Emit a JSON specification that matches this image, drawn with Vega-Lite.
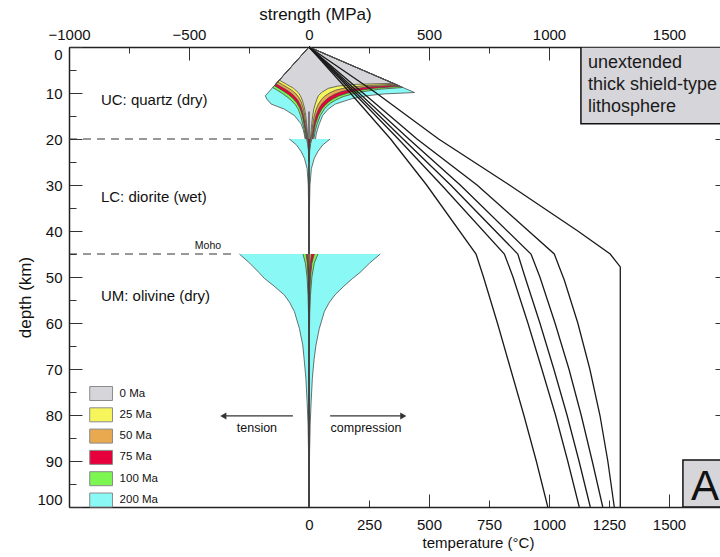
{
  "$schema": "https://vega.github.io/schema/vega-lite/v6.json",
  "width": 651,
  "height": 460,
  "autosize": {"type": "none"},
  "padding": {"left": 69, "top": 47, "right": 0, "bottom": 50},
  "config": {
    "font": "Liberation Sans",
    "view": {"stroke": null},
    "axis": {"grid": false, "format": "d", "domainColor": "#222", "domainWidth": 1.5, "tickColor": "#333", "tickWidth": 1, "labelColor": "#111", "titleColor": "#111", "labelFontSize": 15, "titleFontSize": 15, "titleFontWeight": "normal", "labelFont": "Liberation Sans", "titleFont": "Liberation Sans"}
  },
  "datasets": {
    "env": [
      {"age":"200 Ma","part":"UC-c","depth":0,"mpa":0},{"age":"200 Ma","part":"UC-c","depth":9.9,"mpa":440},{"age":"200 Ma","part":"UC-c","depth":10.2,"mpa":314},{"age":"200 Ma","part":"UC-c","depth":10.6,"mpa":240},{"age":"200 Ma","part":"UC-c","depth":11.3,"mpa":175},{"age":"200 Ma","part":"UC-c","depth":12.4,"mpa":110},{"age":"200 Ma","part":"UC-c","depth":13.5,"mpa":80},{"age":"200 Ma","part":"UC-c","depth":14.9,"mpa":57},{"age":"200 Ma","part":"UC-c","depth":16.7,"mpa":43},{"age":"200 Ma","part":"UC-c","depth":18,"mpa":35},{"age":"200 Ma","part":"UC-c","depth":19,"mpa":30},{"age":"200 Ma","part":"UC-c","depth":20,"mpa":27},
      {"age":"200 Ma","part":"UC-t","depth":0,"mpa":0},{"age":"200 Ma","part":"UC-t","depth":10.6,"mpa":-182},{"age":"200 Ma","part":"UC-t","depth":11.3,"mpa":-176},{"age":"200 Ma","part":"UC-t","depth":12.4,"mpa":-158},{"age":"200 Ma","part":"UC-t","depth":13.5,"mpa":-103},{"age":"200 Ma","part":"UC-t","depth":14.9,"mpa":-61},{"age":"200 Ma","part":"UC-t","depth":16.7,"mpa":-33},{"age":"200 Ma","part":"UC-t","depth":18,"mpa":-24},{"age":"200 Ma","part":"UC-t","depth":19,"mpa":-19.5},{"age":"200 Ma","part":"UC-t","depth":20,"mpa":-16},
      {"age":"200 Ma","part":"LC-c","depth":20,"mpa":88},{"age":"200 Ma","part":"LC-c","depth":21.3,"mpa":57},{"age":"200 Ma","part":"LC-c","depth":22.8,"mpa":36},{"age":"200 Ma","part":"LC-c","depth":24.2,"mpa":22},{"age":"200 Ma","part":"LC-c","depth":26.4,"mpa":10},{"age":"200 Ma","part":"LC-c","depth":30,"mpa":4},{"age":"200 Ma","part":"LC-c","depth":35,"mpa":2},{"age":"200 Ma","part":"LC-c","depth":45,"mpa":1},
      {"age":"200 Ma","part":"LC-t","depth":20,"mpa":-82},{"age":"200 Ma","part":"LC-t","depth":21.3,"mpa":-52},{"age":"200 Ma","part":"LC-t","depth":22.8,"mpa":-32},{"age":"200 Ma","part":"LC-t","depth":24.2,"mpa":-19},{"age":"200 Ma","part":"LC-t","depth":26.4,"mpa":-8},{"age":"200 Ma","part":"LC-t","depth":30,"mpa":-3},{"age":"200 Ma","part":"LC-t","depth":35,"mpa":-1.5},{"age":"200 Ma","part":"LC-t","depth":45,"mpa":-1},
      {"age":"200 Ma","part":"M-c","depth":45,"mpa":297},{"age":"200 Ma","part":"M-c","depth":47,"mpa":252},{"age":"200 Ma","part":"M-c","depth":49,"mpa":213},{"age":"200 Ma","part":"M-c","depth":50.3,"mpa":182},{"age":"200 Ma","part":"M-c","depth":52,"mpa":145},{"age":"200 Ma","part":"M-c","depth":53.9,"mpa":108},{"age":"200 Ma","part":"M-c","depth":55.5,"mpa":85},{"age":"200 Ma","part":"M-c","depth":57.5,"mpa":64},{"age":"200 Ma","part":"M-c","depth":61.2,"mpa":43},{"age":"200 Ma","part":"M-c","depth":64.8,"mpa":29},{"age":"200 Ma","part":"M-c","depth":68,"mpa":21},{"age":"200 Ma","part":"M-c","depth":72,"mpa":14},{"age":"200 Ma","part":"M-c","depth":77,"mpa":9},{"age":"200 Ma","part":"M-c","depth":82,"mpa":5},{"age":"200 Ma","part":"M-c","depth":88,"mpa":2.5},{"age":"200 Ma","part":"M-c","depth":95,"mpa":1},{"age":"200 Ma","part":"M-c","depth":100,"mpa":0.5},
      {"age":"200 Ma","part":"M-t","depth":45,"mpa":-290},{"age":"200 Ma","part":"M-t","depth":47,"mpa":-247},{"age":"200 Ma","part":"M-t","depth":49,"mpa":-209},{"age":"200 Ma","part":"M-t","depth":50.3,"mpa":-186},{"age":"200 Ma","part":"M-t","depth":52,"mpa":-145},{"age":"200 Ma","part":"M-t","depth":53.9,"mpa":-103},{"age":"200 Ma","part":"M-t","depth":55.5,"mpa":-81},{"age":"200 Ma","part":"M-t","depth":57.5,"mpa":-61},{"age":"200 Ma","part":"M-t","depth":61.2,"mpa":-40},{"age":"200 Ma","part":"M-t","depth":64.8,"mpa":-26},{"age":"200 Ma","part":"M-t","depth":68,"mpa":-20},{"age":"200 Ma","part":"M-t","depth":72,"mpa":-13},{"age":"200 Ma","part":"M-t","depth":77,"mpa":-8},{"age":"200 Ma","part":"M-t","depth":82,"mpa":-4},{"age":"200 Ma","part":"M-t","depth":88,"mpa":-2},{"age":"200 Ma","part":"M-t","depth":95,"mpa":-1},{"age":"200 Ma","part":"M-t","depth":100,"mpa":-0.5},

      {"age":"100 Ma","part":"UC-c","depth":0,"mpa":0},{"age":"100 Ma","part":"UC-c","depth":8.8,"mpa":391},{"age":"100 Ma","part":"UC-c","depth":9.2,"mpa":290},{"age":"100 Ma","part":"UC-c","depth":9.75,"mpa":220},{"age":"100 Ma","part":"UC-c","depth":10.25,"mpa":178},{"age":"100 Ma","part":"UC-c","depth":10.8,"mpa":142},{"age":"100 Ma","part":"UC-c","depth":11.5,"mpa":112},{"age":"100 Ma","part":"UC-c","depth":12.2,"mpa":90},{"age":"100 Ma","part":"UC-c","depth":13,"mpa":72},{"age":"100 Ma","part":"UC-c","depth":13.5,"mpa":64},{"age":"100 Ma","part":"UC-c","depth":14.9,"mpa":47},{"age":"100 Ma","part":"UC-c","depth":16.7,"mpa":34},{"age":"100 Ma","part":"UC-c","depth":18,"mpa":27},{"age":"100 Ma","part":"UC-c","depth":20,"mpa":20},
      {"age":"100 Ma","part":"UC-t","depth":0,"mpa":0},{"age":"100 Ma","part":"UC-t","depth":8.8,"mpa":-151},{"age":"100 Ma","part":"UC-t","depth":9.4,"mpa":-132},{"age":"100 Ma","part":"UC-t","depth":10.1,"mpa":-111},{"age":"100 Ma","part":"UC-t","depth":10.9,"mpa":-90},{"age":"100 Ma","part":"UC-t","depth":11.7,"mpa":-72},{"age":"100 Ma","part":"UC-t","depth":12.6,"mpa":-56},{"age":"100 Ma","part":"UC-t","depth":13.5,"mpa":-45},{"age":"100 Ma","part":"UC-t","depth":14.9,"mpa":-35},{"age":"100 Ma","part":"UC-t","depth":16.7,"mpa":-26},{"age":"100 Ma","part":"UC-t","depth":18,"mpa":-20},{"age":"100 Ma","part":"UC-t","depth":20,"mpa":-14},
      {"age":"100 Ma","part":"LC-c","depth":20,"mpa":12},{"age":"100 Ma","part":"LC-c","depth":21,"mpa":7},{"age":"100 Ma","part":"LC-c","depth":22.5,"mpa":3},{"age":"100 Ma","part":"LC-c","depth":25,"mpa":1},{"age":"100 Ma","part":"LC-c","depth":45,"mpa":0.5},
      {"age":"100 Ma","part":"LC-t","depth":20,"mpa":-10},{"age":"100 Ma","part":"LC-t","depth":21,"mpa":-6},{"age":"100 Ma","part":"LC-t","depth":22.5,"mpa":-2.5},{"age":"100 Ma","part":"LC-t","depth":25,"mpa":-1},{"age":"100 Ma","part":"LC-t","depth":45,"mpa":-0.5},
      {"age":"100 Ma","part":"M-c","depth":45,"mpa":37},{"age":"100 Ma","part":"M-c","depth":47,"mpa":22},{"age":"100 Ma","part":"M-c","depth":50,"mpa":12},{"age":"100 Ma","part":"M-c","depth":54,"mpa":6},{"age":"100 Ma","part":"M-c","depth":58,"mpa":3},{"age":"100 Ma","part":"M-c","depth":65,"mpa":1},{"age":"100 Ma","part":"M-c","depth":100,"mpa":0.3},
      {"age":"100 Ma","part":"M-t","depth":45,"mpa":-25},{"age":"100 Ma","part":"M-t","depth":47,"mpa":-15},{"age":"100 Ma","part":"M-t","depth":50,"mpa":-8},{"age":"100 Ma","part":"M-t","depth":54,"mpa":-4},{"age":"100 Ma","part":"M-t","depth":58,"mpa":-2},{"age":"100 Ma","part":"M-t","depth":65,"mpa":-1},{"age":"100 Ma","part":"M-t","depth":100,"mpa":-0.3},

      {"age":"75 Ma","part":"UC-c","depth":0,"mpa":0},{"age":"75 Ma","part":"UC-c","depth":8.55,"mpa":380},{"age":"75 Ma","part":"UC-c","depth":8.95,"mpa":272},{"age":"75 Ma","part":"UC-c","depth":9.5,"mpa":202},{"age":"75 Ma","part":"UC-c","depth":10,"mpa":162},{"age":"75 Ma","part":"UC-c","depth":10.6,"mpa":126},{"age":"75 Ma","part":"UC-c","depth":11.3,"mpa":99},{"age":"75 Ma","part":"UC-c","depth":12,"mpa":80},{"age":"75 Ma","part":"UC-c","depth":12.8,"mpa":64},{"age":"75 Ma","part":"UC-c","depth":13.5,"mpa":53},{"age":"75 Ma","part":"UC-c","depth":14.9,"mpa":39},{"age":"75 Ma","part":"UC-c","depth":16.7,"mpa":27},{"age":"75 Ma","part":"UC-c","depth":18,"mpa":22},{"age":"75 Ma","part":"UC-c","depth":20,"mpa":16},
      {"age":"75 Ma","part":"UC-t","depth":0,"mpa":0},{"age":"75 Ma","part":"UC-t","depth":8.4,"mpa":-144},{"age":"75 Ma","part":"UC-t","depth":9,"mpa":-125},{"age":"75 Ma","part":"UC-t","depth":9.7,"mpa":-104},{"age":"75 Ma","part":"UC-t","depth":10.4,"mpa":-84},{"age":"75 Ma","part":"UC-t","depth":11.2,"mpa":-66},{"age":"75 Ma","part":"UC-t","depth":12.1,"mpa":-51},{"age":"75 Ma","part":"UC-t","depth":13.1,"mpa":-40},{"age":"75 Ma","part":"UC-t","depth":14,"mpa":-33},{"age":"75 Ma","part":"UC-t","depth":14.9,"mpa":-28},{"age":"75 Ma","part":"UC-t","depth":16.7,"mpa":-21},{"age":"75 Ma","part":"UC-t","depth":18,"mpa":-16},{"age":"75 Ma","part":"UC-t","depth":20,"mpa":-11},
      {"age":"75 Ma","part":"LC-c","depth":20,"mpa":8},{"age":"75 Ma","part":"LC-c","depth":21,"mpa":4},{"age":"75 Ma","part":"LC-c","depth":22.5,"mpa":2},{"age":"75 Ma","part":"LC-c","depth":25,"mpa":0.5},
      {"age":"75 Ma","part":"LC-t","depth":20,"mpa":-6},{"age":"75 Ma","part":"LC-t","depth":21,"mpa":-3.5},{"age":"75 Ma","part":"LC-t","depth":22.5,"mpa":-1.5},{"age":"75 Ma","part":"LC-t","depth":25,"mpa":-0.5},
      {"age":"75 Ma","part":"M-c","depth":45,"mpa":22},{"age":"75 Ma","part":"M-c","depth":47,"mpa":12},{"age":"75 Ma","part":"M-c","depth":50,"mpa":6},{"age":"75 Ma","part":"M-c","depth":54,"mpa":3},{"age":"75 Ma","part":"M-c","depth":60,"mpa":1},{"age":"75 Ma","part":"M-c","depth":100,"mpa":0.2},
      {"age":"75 Ma","part":"M-t","depth":45,"mpa":-12},{"age":"75 Ma","part":"M-t","depth":47,"mpa":-7},{"age":"75 Ma","part":"M-t","depth":50,"mpa":-4},{"age":"75 Ma","part":"M-t","depth":54,"mpa":-2},{"age":"75 Ma","part":"M-t","depth":60,"mpa":-0.5},{"age":"75 Ma","part":"M-t","depth":100,"mpa":-0.2},

      {"age":"50 Ma","part":"UC-c","depth":0,"mpa":0},{"age":"50 Ma","part":"UC-c","depth":8.3,"mpa":369},{"age":"50 Ma","part":"UC-c","depth":8.65,"mpa":250},{"age":"50 Ma","part":"UC-c","depth":9.2,"mpa":175},{"age":"50 Ma","part":"UC-c","depth":9.7,"mpa":135},{"age":"50 Ma","part":"UC-c","depth":10.3,"mpa":105},{"age":"50 Ma","part":"UC-c","depth":11,"mpa":82},{"age":"50 Ma","part":"UC-c","depth":11.7,"mpa":66},{"age":"50 Ma","part":"UC-c","depth":12.4,"mpa":53},{"age":"50 Ma","part":"UC-c","depth":13.5,"mpa":40},{"age":"50 Ma","part":"UC-c","depth":14.9,"mpa":29},{"age":"50 Ma","part":"UC-c","depth":16.7,"mpa":21},{"age":"50 Ma","part":"UC-c","depth":18,"mpa":17},{"age":"50 Ma","part":"UC-c","depth":20,"mpa":12},
      {"age":"50 Ma","part":"UC-t","depth":0,"mpa":0},{"age":"50 Ma","part":"UC-t","depth":8,"mpa":-138},{"age":"50 Ma","part":"UC-t","depth":8.6,"mpa":-118},{"age":"50 Ma","part":"UC-t","depth":9.2,"mpa":-98},{"age":"50 Ma","part":"UC-t","depth":9.9,"mpa":-78},{"age":"50 Ma","part":"UC-t","depth":10.7,"mpa":-60},{"age":"50 Ma","part":"UC-t","depth":11.6,"mpa":-46},{"age":"50 Ma","part":"UC-t","depth":12.6,"mpa":-36},{"age":"50 Ma","part":"UC-t","depth":13.5,"mpa":-30},{"age":"50 Ma","part":"UC-t","depth":14.9,"mpa":-23},{"age":"50 Ma","part":"UC-t","depth":16.7,"mpa":-17},{"age":"50 Ma","part":"UC-t","depth":18,"mpa":-13},{"age":"50 Ma","part":"UC-t","depth":20,"mpa":-9},
      {"age":"50 Ma","part":"M-c","depth":45,"mpa":10},{"age":"50 Ma","part":"M-c","depth":48,"mpa":4},{"age":"50 Ma","part":"M-c","depth":52,"mpa":1.5},{"age":"50 Ma","part":"M-c","depth":60,"mpa":0.3},
      {"age":"50 Ma","part":"M-t","depth":45,"mpa":-6},{"age":"50 Ma","part":"M-t","depth":48,"mpa":-2.5},{"age":"50 Ma","part":"M-t","depth":52,"mpa":-1},{"age":"50 Ma","part":"M-t","depth":60,"mpa":-0.3},

      {"age":"25 Ma","part":"UC-c","depth":0,"mpa":0},{"age":"25 Ma","part":"UC-c","depth":8.1,"mpa":360},{"age":"25 Ma","part":"UC-c","depth":8.4,"mpa":230},{"age":"25 Ma","part":"UC-c","depth":8.9,"mpa":150},{"age":"25 Ma","part":"UC-c","depth":9.4,"mpa":110},{"age":"25 Ma","part":"UC-c","depth":10,"mpa":85},{"age":"25 Ma","part":"UC-c","depth":10.7,"mpa":65},{"age":"25 Ma","part":"UC-c","depth":11.4,"mpa":52},{"age":"25 Ma","part":"UC-c","depth":12.4,"mpa":39},{"age":"25 Ma","part":"UC-c","depth":13.5,"mpa":30},{"age":"25 Ma","part":"UC-c","depth":14.9,"mpa":22},{"age":"25 Ma","part":"UC-c","depth":16.7,"mpa":16},{"age":"25 Ma","part":"UC-c","depth":18,"mpa":13},{"age":"25 Ma","part":"UC-c","depth":20,"mpa":9},
      {"age":"25 Ma","part":"UC-t","depth":0,"mpa":0},{"age":"25 Ma","part":"UC-t","depth":7.6,"mpa":-131},{"age":"25 Ma","part":"UC-t","depth":8.2,"mpa":-110},{"age":"25 Ma","part":"UC-t","depth":8.8,"mpa":-90},{"age":"25 Ma","part":"UC-t","depth":9.4,"mpa":-72},{"age":"25 Ma","part":"UC-t","depth":10.2,"mpa":-54},{"age":"25 Ma","part":"UC-t","depth":11,"mpa":-42},{"age":"25 Ma","part":"UC-t","depth":12,"mpa":-32},{"age":"25 Ma","part":"UC-t","depth":13.5,"mpa":-23},{"age":"25 Ma","part":"UC-t","depth":14.9,"mpa":-18},{"age":"25 Ma","part":"UC-t","depth":16.7,"mpa":-13},{"age":"25 Ma","part":"UC-t","depth":18,"mpa":-10},{"age":"25 Ma","part":"UC-t","depth":20,"mpa":-7},

      {"age":"0 Ma","part":"UC-c","depth":0,"mpa":0},{"age":"0 Ma","part":"UC-c","depth":7.9,"mpa":352},{"age":"0 Ma","part":"UC-c","depth":8.1,"mpa":200},{"age":"0 Ma","part":"UC-c","depth":8.5,"mpa":120},{"age":"0 Ma","part":"UC-c","depth":9,"mpa":80},{"age":"0 Ma","part":"UC-c","depth":9.9,"mpa":52},{"age":"0 Ma","part":"UC-c","depth":10.6,"mpa":39},{"age":"0 Ma","part":"UC-c","depth":11.3,"mpa":33},{"age":"0 Ma","part":"UC-c","depth":12.4,"mpa":26},{"age":"0 Ma","part":"UC-c","depth":13.5,"mpa":20},{"age":"0 Ma","part":"UC-c","depth":14.9,"mpa":15.5},{"age":"0 Ma","part":"UC-c","depth":16.7,"mpa":11.5},{"age":"0 Ma","part":"UC-c","depth":18,"mpa":9},{"age":"0 Ma","part":"UC-c","depth":20,"mpa":6},
      {"age":"0 Ma","part":"UC-t","depth":0,"mpa":0},{"age":"0 Ma","part":"UC-t","depth":7.2,"mpa":-124},{"age":"0 Ma","part":"UC-t","depth":7.9,"mpa":-100},{"age":"0 Ma","part":"UC-t","depth":8.5,"mpa":-80},{"age":"0 Ma","part":"UC-t","depth":9,"mpa":-64},{"age":"0 Ma","part":"UC-t","depth":9.9,"mpa":-45},{"age":"0 Ma","part":"UC-t","depth":10.6,"mpa":-36},{"age":"0 Ma","part":"UC-t","depth":11.3,"mpa":-30},{"age":"0 Ma","part":"UC-t","depth":12.4,"mpa":-23},{"age":"0 Ma","part":"UC-t","depth":13.5,"mpa":-18},{"age":"0 Ma","part":"UC-t","depth":14.9,"mpa":-13.5},{"age":"0 Ma","part":"UC-t","depth":16.7,"mpa":-10},{"age":"0 Ma","part":"UC-t","depth":18,"mpa":-7.5},{"age":"0 Ma","part":"UC-t","depth":20,"mpa":-5}
    ],
    "geo": [
      {"age":"0 Ma","depth":0,"temp":0},{"age":"0 Ma","depth":10,"temp":280},{"age":"0 Ma","depth":20,"temp":540},{"age":"0 Ma","depth":30,"temp":835},{"age":"0 Ma","depth":40,"temp":1120},{"age":"0 Ma","depth":45,"temp":1255},{"age":"0 Ma","depth":47.8,"temp":1297},{"age":"0 Ma","depth":100,"temp":1297},
      {"age":"25 Ma","depth":0,"temp":0},{"age":"25 Ma","depth":10,"temp":225},{"age":"25 Ma","depth":17,"temp":383},{"age":"25 Ma","depth":20,"temp":450},{"age":"25 Ma","depth":30,"temp":700},{"age":"25 Ma","depth":45,"temp":1022},{"age":"25 Ma","depth":50.7,"temp":1064},{"age":"25 Ma","depth":60,"temp":1120},{"age":"25 Ma","depth":70,"temp":1170},{"age":"25 Ma","depth":80,"temp":1212},{"age":"25 Ma","depth":90,"temp":1245},{"age":"25 Ma","depth":100,"temp":1272},
      {"age":"50 Ma","depth":0,"temp":0},{"age":"50 Ma","depth":10,"temp":208},{"age":"50 Ma","depth":20,"temp":416},{"age":"50 Ma","depth":30,"temp":630},{"age":"50 Ma","depth":45,"temp":925},{"age":"50 Ma","depth":50,"temp":962},{"age":"50 Ma","depth":60,"temp":1025},{"age":"50 Ma","depth":70,"temp":1083},{"age":"50 Ma","depth":80,"temp":1134},{"age":"50 Ma","depth":90,"temp":1180},{"age":"50 Ma","depth":100,"temp":1224},
      {"age":"75 Ma","depth":0,"temp":0},{"age":"75 Ma","depth":10,"temp":196},{"age":"75 Ma","depth":20,"temp":392},{"age":"75 Ma","depth":30,"temp":590},{"age":"75 Ma","depth":45,"temp":870},{"age":"75 Ma","depth":50,"temp":900},{"age":"75 Ma","depth":60,"temp":962},{"age":"75 Ma","depth":70,"temp":1020},{"age":"75 Ma","depth":80,"temp":1075},{"age":"75 Ma","depth":90,"temp":1125},{"age":"75 Ma","depth":100,"temp":1172},
      {"age":"100 Ma","depth":0,"temp":0},{"age":"100 Ma","depth":10,"temp":186},{"age":"100 Ma","depth":20,"temp":372},{"age":"100 Ma","depth":30,"temp":552},{"age":"100 Ma","depth":45,"temp":814},{"age":"100 Ma","depth":50,"temp":850},{"age":"100 Ma","depth":60,"temp":912},{"age":"100 Ma","depth":70,"temp":970},{"age":"100 Ma","depth":80,"temp":1027},{"age":"100 Ma","depth":90,"temp":1078},{"age":"100 Ma","depth":100,"temp":1126},
      {"age":"200 Ma","depth":0,"temp":0},{"age":"200 Ma","depth":10,"temp":172},{"age":"200 Ma","depth":20,"temp":340},{"age":"200 Ma","depth":30,"temp":490},{"age":"200 Ma","depth":45,"temp":696},{"age":"200 Ma","depth":50,"temp":727},{"age":"200 Ma","depth":60,"temp":785},{"age":"200 Ma","depth":70,"temp":840},{"age":"200 Ma","depth":80,"temp":895},{"age":"200 Ma","depth":90,"temp":947},{"age":"200 Ma","depth":100,"temp":995}
    ]
  },
  "resolve": {"axis": {"x": "independent", "y": "independent"}},
  "layer": [
    {
      "data": {"name": "env"},
      "mark": {"type": "area", "orient": "horizontal"},
      "encoding": {
        "y": {"field": "depth", "type": "quantitative", "scale": {"domain": [0, 100], "reverse": true, "nice": false, "zero": false},
              "axis": {"orient": "left", "values": [0,10,20,30,40,50,60,70,80,90,100], "tickSize": -13, "labelPadding": 20, "labelFlush": true, "title": "depth (km)", "titleFontSize": 17, "titleX": -44, "titleY": 250, "titleAngle": -90, "titleAlign": "center", "titleBaseline": "middle"}},
        "x": {"field": "mpa", "type": "quantitative", "scale": {"domain": [-1000, 1712.5], "nice": false, "zero": false},
              "axis": {"orient": "top", "values": [-1000,-500,0,500,1000,1500], "tickSize": -13, "labelPadding": 18, "labelFlush": false, "title": "strength (MPa)", "titleFontSize": 17, "titleX": 246, "titleY": -28, "titleAlign": "center", "titleBaseline": "alphabetic"}},
        "x2": {"datum": 0},
        "fill": {"field": "age", "type": "nominal",
                 "scale": {"domain": ["0 Ma","25 Ma","50 Ma","75 Ma","100 Ma","200 Ma"], "range": ["#d6d5da","#f6f65c","#e8a94f","#e6003c","#7cf650","#8af8f4"]},
                 "legend": {"orient": "none", "legendX": 22.6, "legendY": 337, "title": null, "padding": 0, "symbolType": "M-1.3,-0.8H1.3V0.8H-1.3Z", "symbolSize": 306, "symbolStrokeColor": "#8a8a8a", "symbolStrokeWidth": 1, "symbolOpacity": 1, "labelFontSize": 11.5, "labelFont": "Liberation Sans", "labelColor": "#111", "labelOffset": 9, "rowPadding": 2.3}},
        "detail": {"field": "part"}
      }
    },
    {
      "data": {"name": "env"},
      "mark": {"type": "line", "stroke": "#4d4d4d", "strokeWidth": 0.8},
      "encoding": {
        "y": {"field": "depth", "type": "quantitative", "scale": {"domain": [0, 100], "reverse": true, "nice": false, "zero": false},
              "axis": {"orient": "left", "values": [5,15,25,35,45,55,65,75,85,95], "tickSize": -7, "labels": false, "domain": false, "title": null}},
        "x": {"field": "mpa", "type": "quantitative", "scale": {"domain": [-1000, 1712.5], "nice": false, "zero": false},
              "axis": {"orient": "top", "values": [-750,-250,250,750,1250], "tickSize": -6, "labels": false, "domain": false, "title": null}},
        "detail": [{"field": "age"}, {"field": "part"}],
        "order": {"field": "depth"}
      }
    },
    {
      "data": {"values": [{"s": 0, "d0": 14, "d1": 100}]},
      "mark": {"type": "rule", "stroke": "#3a3a3a", "strokeWidth": 1.2},
      "encoding": {
        "x": {"field": "s", "type": "quantitative", "scale": {"domain": [-1000, 1712.5], "nice": false, "zero": false}, "axis": null},
        "y": {"field": "d0", "type": "quantitative", "scale": {"domain": [0, 100], "reverse": true, "nice": false, "zero": false}, "axis": null},
        "y2": {"field": "d1"}
      }
    },
    {
      "data": {"values": [{"depth": 20, "from": -1000, "to": -150}, {"depth": 45, "from": -1000, "to": -318}]},
      "mark": {"type": "rule", "stroke": "#333", "strokeWidth": 1.2, "strokeDash": [8, 6]},
      "encoding": {
        "x": {"field": "from", "type": "quantitative", "scale": {"domain": [-1000, 1712.5], "nice": false, "zero": false},
              "axis": {"orient": "bottom", "values": [0,500,1000,1500], "tickSize": -13, "labels": false, "domain": false, "title": null}},
        "x2": {"field": "to"},
        "y": {"field": "depth", "type": "quantitative", "scale": {"domain": [0, 100], "reverse": true, "nice": false, "zero": false}, "axis": null}
      }
    },
    {
      "data": {"name": "geo"},
      "mark": {"type": "line", "stroke": "#1a1a1a", "strokeWidth": 1.3},
      "encoding": {
        "y": {"field": "depth", "type": "quantitative", "scale": {"domain": [0, 100], "reverse": true, "nice": false, "zero": false},
              "axis": {"orient": "right", "values": [10,20,30,40,50,60,70,80,90], "tickSize": -5, "labels": false, "domain": false, "title": null}},
        "x": {"field": "temp", "type": "quantitative", "scale": {"domain": [-1000, 1712.5], "nice": false, "zero": false},
              "axis": {"orient": "bottom", "values": [0,250,500,750,1000,1250,1500], "tickSize": -7, "labelPadding": 17, "title": "temperature (°C)", "titleX": 409, "titleY": 40, "titleAlign": "center", "titleBaseline": "alphabetic"}},
        "detail": {"field": "age"},
        "order": {"field": "depth"}
      }
    },
    {
      "data": {"values": [{"from": 1133, "to": 1800, "top": 0, "bottom": 16.7}, {"from": 1558, "to": 1800, "top": 89.8, "bottom": 100}]},
      "mark": {"type": "rect", "clip": true, "fill": "#d6d5da", "stroke": "#111", "strokeWidth": 1.5},
      "encoding": {
        "x": {"field": "from", "type": "quantitative", "scale": {"domain": [-1000, 1712.5], "nice": false, "zero": false}, "axis": null},
        "x2": {"field": "to"},
        "y": {"field": "top", "type": "quantitative", "scale": {"domain": [0, 100], "reverse": true, "nice": false, "zero": false}, "axis": null},
        "y2": {"field": "bottom"}
      }
    },
    {
      "data": {"values": [{"label": "unextended", "s": 1162, "depth": 4.5}, {"label": "thick shield-type", "s": 1162, "depth": 9.35}, {"label": "lithosphere", "s": 1162, "depth": 14.07}]},
      "mark": {"type": "text", "align": "left", "baseline": "alphabetic", "fontSize": 18, "color": "#1a1a1a"},
      "encoding": {
        "x": {"field": "s", "type": "quantitative", "scale": {"domain": [-1000, 1712.5], "nice": false, "zero": false}, "axis": null},
        "y": {"field": "depth", "type": "quantitative", "scale": {"domain": [0, 100], "reverse": true, "nice": false, "zero": false}, "axis": null},
        "text": {"field": "label"}
      }
    },
    {
      "data": {"values": [{"label": "A", "s": 1650, "depth": 98.5}]},
      "mark": {"type": "text", "align": "center", "baseline": "alphabetic", "fontSize": 42, "color": "#111"},
      "encoding": {
        "x": {"field": "s", "type": "quantitative", "scale": {"domain": [-1000, 1712.5], "nice": false, "zero": false}, "axis": null},
        "y": {"field": "depth", "type": "quantitative", "scale": {"domain": [0, 100], "reverse": true, "nice": false, "zero": false}, "axis": null},
        "text": {"field": "label"}
      }
    },
    {
      "data": {"values": [{"label": "UC: quartz (dry)", "s": -867, "depth": 11.5}, {"label": "LC: diorite (wet)", "s": -867, "depth": 32.6}, {"label": "UM: olivine (dry)", "s": -867, "depth": 54.1}]},
      "mark": {"type": "text", "align": "left", "baseline": "middle", "fontSize": 15, "color": "#111"},
      "encoding": {
        "x": {"field": "s", "type": "quantitative", "scale": {"domain": [-1000, 1712.5], "nice": false, "zero": false}, "axis": null},
        "y": {"field": "depth", "type": "quantitative", "scale": {"domain": [0, 100], "reverse": true, "nice": false, "zero": false}, "axis": null},
        "text": {"field": "label"}
      }
    },
    {
      "data": {"values": [{"label": "Moho", "s": -421, "depth": 43.3, "size": 10.5}, {"label": "tension", "s": -217, "depth": 82.8, "size": 12.5}, {"label": "compression", "s": 237.5, "depth": 82.8, "size": 12.5}]},
      "mark": {"type": "text", "align": "center", "baseline": "middle", "color": "#111"},
      "encoding": {
        "x": {"field": "s", "type": "quantitative", "scale": {"domain": [-1000, 1712.5], "nice": false, "zero": false}, "axis": null},
        "y": {"field": "depth", "type": "quantitative", "scale": {"domain": [0, 100], "reverse": true, "nice": false, "zero": false}, "axis": null},
        "size": {"field": "size", "type": "quantitative", "scale": null},
        "text": {"field": "label"}
      }
    },
    {
      "data": {"values": [{"from": -352, "to": -67, "depth": 80.2}, {"from": 88, "to": 388, "depth": 80.2}]},
      "mark": {"type": "rule", "stroke": "#333", "strokeWidth": 1.2},
      "encoding": {
        "x": {"field": "from", "type": "quantitative", "scale": {"domain": [-1000, 1712.5], "nice": false, "zero": false}, "axis": null},
        "x2": {"field": "to"},
        "y": {"field": "depth", "type": "quantitative", "scale": {"domain": [0, 100], "reverse": true, "nice": false, "zero": false}, "axis": null}
      }
    },
    {
      "data": {"values": [{"s": -357, "depth": 80.2, "head": "triangle-left"}, {"s": 393, "depth": 80.2, "head": "triangle-right"}]},
      "mark": {"type": "point", "filled": true, "color": "#333", "opacity": 1, "size": 50},
      "encoding": {
        "x": {"field": "s", "type": "quantitative", "scale": {"domain": [-1000, 1712.5], "nice": false, "zero": false}, "axis": null},
        "y": {"field": "depth", "type": "quantitative", "scale": {"domain": [0, 100], "reverse": true, "nice": false, "zero": false}, "axis": null},
        "shape": {"field": "head", "type": "nominal", "scale": null, "legend": null}
      }
    }
  ]
}
